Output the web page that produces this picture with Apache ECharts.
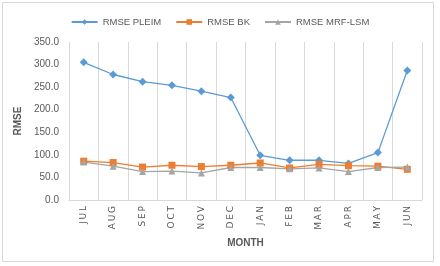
<!DOCTYPE html>
<html><head><meta charset="utf-8">
<script src="https://cdn.jsdelivr.net/npm/echarts@6/dist/echarts.min.js"></script>
<style>html,body{margin:0;padding:0;background:#fff}#c{width:440px;height:266px}</style>
</head><body><div id="c"></div>
<script>
var months = ['JUL','AUG','SEP','OCT','NOV','DEC','JAN','FEB','MAR','APR','MAY','JUN'];
var rmsePleim = [305, 278, 262, 254, 241, 227, 99, 88, 88, 81, 105, 287];
var rmseBk = [86, 83, 73, 77, 74, 77, 82, 71, 79, 76, 75, 68];
var rmseMrf = [84, 75, 63, 64, 60, 72, 72, 69, 71, 63, 72, 73];
var seriesNames = ['RMSE PLEIM', 'RMSE BK', 'RMSE MRF-LSM'];

var chart = echarts.init(document.getElementById('c'), null, {renderer: 'canvas'});
var txt = '#595959';
chart.setOption({
  animation: false,
  backgroundColor: '#fff',
  graphic: [{type: 'rect', shape: {x: 2.5, y: 2.5, width: 431, height: 259}, style: {fill: 'none', stroke: '#d9d9d9', lineWidth: 1}, silent: true}],
  legend: {
    top: 12, left: 'center', itemGap: 14, itemWidth: 26, itemHeight: 7,
    textStyle: {color: txt, fontSize: 9.5, fontFamily: 'Liberation Sans'},
    data: seriesNames
  },
  grid: {left: 69, right: 18, top: 42, bottom: 66},
  xAxis: {
    type: 'category', data: months, boundaryGap: true,
    name: 'MONTH', nameLocation: 'middle', nameGap: 38,
    nameTextStyle: {color: txt, fontSize: 10, fontWeight: 'bold', fontFamily: 'Liberation Sans'},
    axisLine: {lineStyle: {color: '#d9d9d9'}},
    axisTick: {show: false},
    axisLabel: {rotate: 90, color: txt, fontSize: 9, margin: 6, fontFamily: 'DejaVu Sans',
      formatter: function(v){ return v.split('').join('\u2009'); }},
    splitLine: {show: true, lineStyle: {color: '#d9d9d9'}}
  },
  yAxis: {
    type: 'value', min: 0, max: 350, interval: 50,
    name: 'RMSE', nameLocation: 'middle', nameGap: 34, nameRotate: 90,
    nameTextStyle: {color: txt, fontSize: 10, fontWeight: 'bold', fontFamily: 'Liberation Sans'},
    axisLine: {show: false}, axisTick: {show: false},
    axisLabel: {color: txt, fontSize: 10, margin: 10, fontFamily: 'Liberation Sans',
      formatter: function(v){ return v.toFixed(1); }},
    splitLine: {show: false}
  },
  series: [
    {name: seriesNames[0], type: 'line', data: rmsePleim, symbol: 'diamond', symbolSize: 8,
      itemStyle: {color: '#5B9BD5'}, lineStyle: {color: '#5B9BD5', width: 1.3}},
    {name: seriesNames[1], type: 'line', data: rmseBk, symbol: 'rect', symbolSize: 7,
      itemStyle: {color: '#ED7D31'}, lineStyle: {color: '#ED7D31', width: 1.3}},
    {name: seriesNames[2], type: 'line', data: rmseMrf, symbol: 'triangle', symbolSize: 7,
      itemStyle: {color: '#A5A5A5'}, lineStyle: {color: '#A5A5A5', width: 1.3}}
  ]
});
</script></body></html>
